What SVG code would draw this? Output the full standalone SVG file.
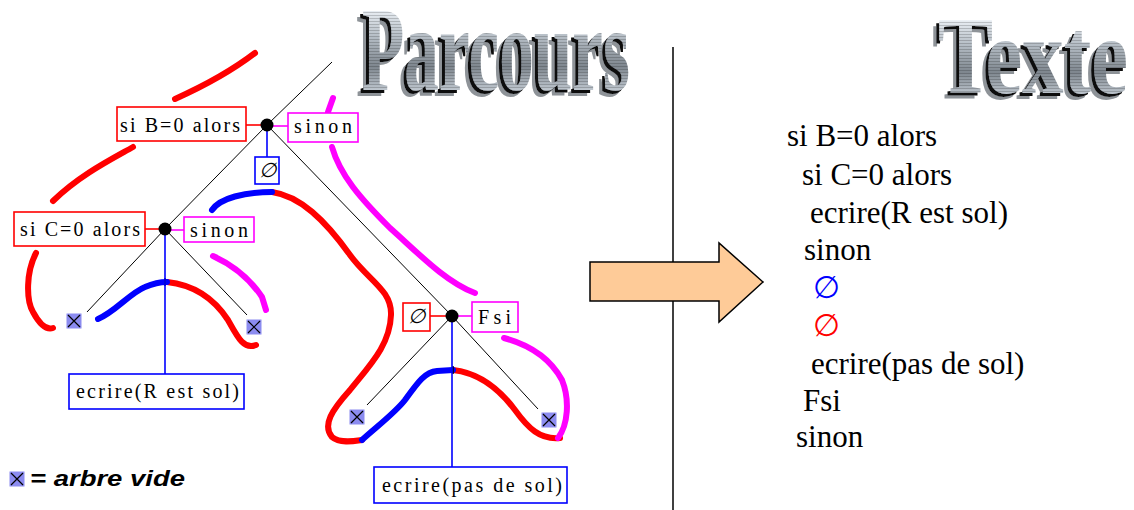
<svg xmlns="http://www.w3.org/2000/svg" width="1134" height="510" viewBox="0 0 1134 510">
<style>
.lbl{font-family:"Liberation Serif","Times New Roman",serif;font-size:20px;font-weight:normal;fill:#000}
.txt{font-family:"Liberation Serif","Times New Roman",serif;font-size:31px;font-weight:normal;fill:#000}
.r{fill:#fff;stroke:#f00;stroke-width:1.6}
.m{fill:#fff;stroke:#f0f;stroke-width:1.6}
.b{fill:#fff;stroke:#00f;stroke-width:1.6}
.rl{stroke:#f00;stroke-width:1.6;fill:none}
.ml{stroke:#f0f;stroke-width:1.6;fill:none}
.bl{stroke:#00f;stroke-width:1.6;fill:none}
.tree{stroke:#000;stroke-width:1;fill:none}
.pen{fill:none;stroke-width:6;stroke-linecap:round;stroke-linejoin:round}
.wa{font-family:"Liberation Serif","Times New Roman",serif;font-weight:bold}
</style>
<defs>
<linearGradient id="metal" x1="0" y1="0" x2="0" y2="1">
<stop offset="0" stop-color="#eef3f8"/>
<stop offset="0.35" stop-color="#b4bcc4"/>
<stop offset="0.7" stop-color="#7e868e"/>
<stop offset="1" stop-color="#c4ccd4"/>
</linearGradient>
<pattern id="patP" patternUnits="userSpaceOnUse" x="352" y="8" width="290" height="84">
<rect width="290" height="84" fill="url(#metal)"/>
<path d="M0,1.5H290M0,4.5H290M0,7.5H290M0,10.5H290M0,13.5H290M0,16.5H290M0,19.5H290M0,22.5H290M0,25.5H290M0,28.5H290M0,31.5H290M0,34.5H290M0,37.5H290M0,40.5H290M0,43.5H290M0,46.5H290M0,49.5H290M0,52.5H290M0,55.5H290M0,58.5H290M0,61.5H290M0,64.5H290M0,67.5H290M0,70.5H290M0,73.5H290M0,76.5H290M0,79.5H290M0,82.5H290" stroke="#000" stroke-opacity="0.18" stroke-width="1"/>
</pattern>
<pattern id="patT" patternUnits="userSpaceOnUse" x="930" y="18" width="204" height="78">
<rect width="204" height="78" fill="url(#metal)"/>
<path d="M0,1.5H204M0,4.5H204M0,7.5H204M0,10.5H204M0,13.5H204M0,16.5H204M0,19.5H204M0,22.5H204M0,25.5H204M0,28.5H204M0,31.5H204M0,34.5H204M0,37.5H204M0,40.5H204M0,43.5H204M0,46.5H204M0,49.5H204M0,52.5H204M0,55.5H204M0,58.5H204M0,61.5H204M0,64.5H204M0,67.5H204M0,70.5H204M0,73.5H204M0,76.5H204" stroke="#000" stroke-opacity="0.18" stroke-width="1"/>
</pattern>
<filter id="extrude" x="-10%" y="-15%" width="125%" height="135%">
<feOffset in="SourceAlpha" dx="-3" dy="3" result="o1"/>
<feOffset in="SourceAlpha" dx="-6" dy="6" result="o2"/>
<feFlood flood-color="#111" result="c1"/>
<feComposite in="c1" in2="o1" operator="in" result="s1"/>
<feFlood flood-color="#8e9398" result="c2"/>
<feComposite in="c2" in2="o2" operator="in" result="s2"/>
<feMerge><feMergeNode in="s2"/><feMergeNode in="s1"/><feMergeNode in="SourceGraphic"/></feMerge>
</filter>
<g id="leaf">
<rect x="-7.5" y="-7.5" width="15" height="15" fill="#8c8cf0"/>
<path d="M-6,-6 L6,6 M6,-6 L-6,6" stroke="#000" stroke-width="1.2"/>
</g>
</defs>
<rect width="1134" height="510" fill="#fff"/>

<!-- Titles -->
<g id="title-parcours">
<text class="wa" x="362" y="90" font-size="120" textLength="268" lengthAdjust="spacingAndGlyphs" fill="url(#patP)" filter="url(#extrude)">Parcours</text>
</g>
<g id="title-texte">
<text class="wa" x="938" y="93" font-size="110" textLength="190" lengthAdjust="spacingAndGlyphs" fill="url(#patT)" filter="url(#extrude)">Texte</text>
</g>

<!-- traversal pen strokes -->
<g id="traversal">
<path class="pen" stroke="#f00" d="M175,99 C195,90 225,76 255,53"/>
<path class="pen" stroke="#f00" d="M133,147 C110,160 80,175 53,201"/>
<path class="pen" stroke="#f00" d="M36,253 C26,272 26,300 33,312 C40,325 47,330 53,328"/>
<path class="pen" stroke="#f00" d="M167,282 C195,285 215,300 228,320 C238,338 244,350 256,345"/>
<path class="pen" stroke="#f00" d="M272,192 C300,196 325,220 350,255 C368,280 392,290 391,315 C390,345 370,365 350,390 C332,410 322,425 332,437 C340,444 355,441 362,440"/>
<path class="pen" stroke="#f00" d="M453,370 C480,373 500,390 515,410 C528,428 540,440 560,438"/>
<path class="pen" stroke="#00f" d="M212,210 C220,198 245,192 272,192"/>
<path class="pen" stroke="#00f" d="M98,319 C115,312 130,293 145,287 C152,284 160,282 167,282"/>
<path class="pen" stroke="#00f" d="M362,440 C375,428 395,413 405,400 C418,382 425,372 437,371 L453,370"/>
<path class="pen" stroke="#f0f" d="M333,98 L328,112"/>
<path class="pen" stroke="#f0f" d="M332,147 C340,175 360,198 390,228 C415,250 445,282 475,293"/>
<path class="pen" stroke="#f0f" d="M213,256 C235,266 252,282 262,297 L266,310"/>
<path class="pen" stroke="#f0f" d="M504,338 C530,345 550,358 562,380 C570,400 568,425 558,438"/>
<path d="M165,278 V286 M453,366 V374" stroke="#000" stroke-width="1.5"/>
</g>

<!-- tree connectors -->
<g id="connectors">
<line class="tree" x1="267" y1="125" x2="332" y2="62"/>
<line class="tree" x1="267" y1="125" x2="165" y2="229"/>
<line class="tree" x1="267" y1="125" x2="452" y2="316"/>
<line class="tree" x1="165" y1="229" x2="87" y2="312"/>
<line class="tree" x1="165" y1="229" x2="247" y2="315"/>
<line class="tree" x1="452" y1="316" x2="367" y2="405"/>
<line class="tree" x1="452" y1="316" x2="538" y2="409"/>
<line class="rl" x1="246" y1="125" x2="262" y2="125"/>
<line class="ml" x1="272" y1="126" x2="288" y2="126"/>
<line class="bl" x1="267" y1="125" x2="267" y2="157"/>
<line class="rl" x1="145" y1="229" x2="160" y2="229"/>
<line class="ml" x1="170" y1="230" x2="184" y2="230"/>
<line class="bl" x1="165" y1="229" x2="165" y2="374"/>
<line class="rl" x1="430" y1="316" x2="447" y2="316"/>
<line class="ml" x1="457" y1="316" x2="472" y2="316"/>
<line class="bl" x1="452" y1="316" x2="452" y2="467"/>
</g>

<!-- nodes -->
<g id="node-A">
<circle cx="267" cy="125" r="6.5" fill="#000"/>
<rect class="r" x="117" y="107" width="129" height="34"/>
<text class="lbl" x="120" y="132" textLength="120" lengthAdjust="spacing">si B=0 alors</text>
<rect class="m" x="288" y="113" width="70" height="29"/>
<text class="lbl" x="294" y="133" textLength="58" lengthAdjust="spacing">sinon</text>
<rect class="b" x="255" y="157" width="24" height="27"/>
<text class="lbl" x="267" y="177" text-anchor="middle" font-style="italic">∅</text>
</g>
<g id="node-B">
<circle cx="165" cy="229" r="6.5" fill="#000"/>
<rect class="r" x="14" y="212" width="131" height="34"/>
<text class="lbl" x="20" y="236" textLength="120" lengthAdjust="spacing">si C=0 alors</text>
<rect class="m" x="184" y="217" width="70" height="25"/>
<text class="lbl" x="190" y="237" textLength="58" lengthAdjust="spacing">sinon</text>
<rect class="b" x="69" y="374" width="175" height="35"/>
<text class="lbl" x="76" y="398" textLength="163" lengthAdjust="spacing">ecrire(R est sol)</text>
</g>
<g id="node-C">
<circle cx="452" cy="316" r="6.5" fill="#000"/>
<rect class="r" x="403" y="303" width="27" height="28"/>
<text class="lbl" x="416" y="323" text-anchor="middle" font-style="italic">∅</text>
<rect class="m" x="472" y="302" width="46" height="30"/>
<text class="lbl" x="478" y="324" textLength="33" lengthAdjust="spacing">Fsi</text>
<rect class="b" x="374" y="467" width="193" height="36"/>
<text class="lbl" x="382" y="492" textLength="180" lengthAdjust="spacing">ecrire(pas de sol)</text>
</g>
<g id="leaves">
<use href="#leaf" x="74" y="321"/>
<use href="#leaf" x="254" y="327"/>
<use href="#leaf" x="357" y="417"/>
<use href="#leaf" x="549" y="420"/>
</g>

<!-- legend -->
<g id="legend">
<use href="#leaf" x="17" y="479"/>
<text x="30" y="486" font-family="Liberation Sans, Arial, sans-serif" font-weight="bold" font-style="italic" font-size="22" textLength="155" lengthAdjust="spacingAndGlyphs">= arbre vide</text>
</g>

<!-- divider and arrow -->
<g id="divider">
<line x1="673" y1="47" x2="673" y2="510" stroke="#000" stroke-width="1.5"/>
</g>
<g id="arrow">
<path d="M590,262 H719 V243 L763,282 L719,322 V301 H590 Z" fill="#fecb98" stroke="#000" stroke-width="1.5"/>
</g>

<!-- text panel -->
<g id="code-text">
<text class="txt" x="787" y="146">si B=0 alors</text>
<text class="txt" x="802" y="185">si C=0 alors</text>
<text class="txt" x="810" y="223">ecrire(R est sol)</text>
<text class="txt" x="804" y="260">sinon</text>
<text class="txt" x="813" y="298" style="fill:#00f">∅</text>
<text class="txt" x="813" y="336" style="fill:#f00">∅</text>
<text class="txt" x="811" y="374">ecrire(pas de sol)</text>
<text class="txt" x="803" y="411">Fsi</text>
<text class="txt" x="796" y="447">sinon</text>
</g>
</svg>
